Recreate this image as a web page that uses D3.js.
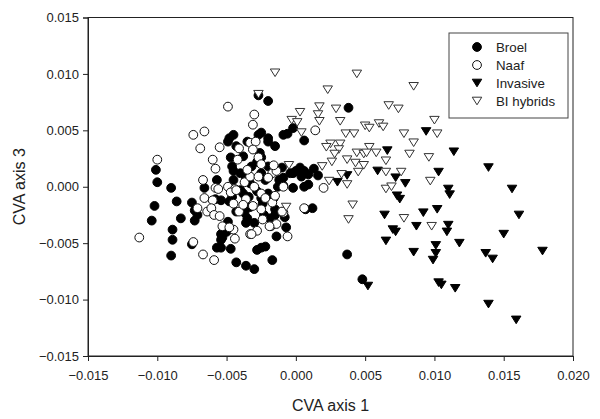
<!DOCTYPE html>
<html>
<head>
<meta charset="utf-8">
<script src="https://cdn.jsdelivr.net/npm/d3@7"></script>
<style>
  body { margin: 0; background: #fff; }
  text { font-family: Arial, "Liberation Sans", sans-serif; fill: #222; }
</style>
</head>
<body>
<div class="chart"></div>
<script>
var W = 600, H = 419;
var margin = {top: 17.5, right: 27, bottom: 63, left: 88},
  width = W - margin.left - margin.right,
  height = H - margin.top - margin.bottom;

var xTicks = [-0.015, -0.010, -0.005, 0.000, 0.005, 0.010, 0.015, 0.020];
var yTicks = [-0.015, -0.010, -0.005, 0.000, 0.005, 0.010, 0.015];
var seriesNames = ["Broel", "Naaf", "Invasive", "BI hybrids"];

// [CVA axis 1, CVA axis 3]
var broel = [
  [-0.0101,0.0015],[-0.0100,0.0004],[-0.0090,-0.0001],[-0.0086,-0.0013],[-0.0102,-0.0017],[-0.0104,-0.0030],
  [-0.0083,-0.0028],[-0.0089,-0.0038],[-0.0089,-0.0047],[-0.0090,-0.0061],[-0.0075,-0.0014],[-0.0073,-0.0021],
  [-0.0073,-0.0030],[-0.0071,-0.0025],[-0.0075,-0.0051],[-0.0066,-0.0001],[-0.0057,0.0006],[-0.0058,-0.0011],
  [-0.0054,-0.0042],[-0.0054,-0.0047],[-0.0057,-0.0054],[-0.0054,-0.0054],[-0.0047,-0.0055],[-0.0043,-0.0067],
  [-0.0036,-0.0070],[-0.0030,-0.0073],[-0.0028,-0.0056],[-0.0025,-0.0054],[-0.0022,-0.0053],[-0.0017,-0.0065],
  [-0.0014,-0.0044],[-0.0007,-0.0036],[-0.0053,-0.0045],[-0.0052,-0.0038],[-0.0049,-0.0031],[-0.0036,-0.0032],
  [-0.0030,-0.0032],[-0.0023,-0.0025],[-0.0015,-0.0025],[-0.0008,-0.0027],[-0.0054,-0.0012],[-0.0050,-0.0040],
  [-0.0048,-0.0013],[-0.0043,-0.0022],[-0.0037,-0.0023],[-0.0035,-0.0028],[-0.0033,-0.0018],[-0.0024,-0.0015],
  [-0.0016,-0.0010],[-0.0015,-0.0020],[-0.0019,-0.0028],[-0.0025,-0.0010],[-0.0038,-0.0006],[-0.0034,-0.0009],
  [-0.0040,-0.0003],[-0.0046,-0.0009],[-0.0020,-0.0006],[-0.0013,0.0000],[-0.0028,-0.0004],
  [-0.0027,0.0081],[-0.0020,0.0076],[-0.0049,0.0040],[-0.0045,0.0046],[-0.0048,0.0043],[-0.0035,0.0040],
  [-0.0043,0.0036],[-0.0027,0.0046],[-0.0025,0.0048],[-0.0020,0.0043],[-0.0020,0.0040],[-0.0015,0.0036],
  [-0.0009,0.0046],[-0.0006,0.0047],[-0.0002,0.0052],[0.0006,0.0041],[0.0038,0.0070],
  [-0.0047,0.0026],[-0.0046,0.0018],[-0.0045,0.0014],[-0.0038,0.0027],[-0.0026,0.0030],[-0.0025,0.0026],
  [-0.0032,0.0018],[-0.0028,0.0022],[-0.0020,0.0018],[-0.0025,0.0012],[-0.0040,0.0012],[-0.0036,0.0008],
  [-0.0022,0.0006],[-0.0045,0.0006],[-0.0033,0.0003],
  [-0.0010,0.0017],[-0.0009,0.0008],[-0.0012,0.0006],[-0.0009,0.0001],[-0.0002,-0.0001],[-0.0002,0.0012],
  [0.0000,0.0014],[0.0003,0.0017],[0.0006,0.0014],[0.0009,0.0011],[0.0013,0.0016],[0.0016,0.0010],
  [0.0006,0.0000],[0.0009,0.0002],[0.0012,-0.0019],[0.0007,-0.0020],[-0.0004,0.0012],[0.0004,0.0009],
  [0.0037,-0.0060],[0.0048,-0.0082]
];

var naaf = [
  [-0.0113,-0.0045],[-0.0100,0.0024],[-0.0074,-0.0049],[-0.0067,-0.0060],[-0.0059,-0.0065],[-0.0049,0.0071],
  [-0.0074,0.0046],[-0.0066,0.0049],[-0.0069,0.0034],[-0.0055,0.0035],[-0.0060,0.0024],[-0.0058,0.0016],
  [-0.0067,0.0006],[-0.0058,-0.0001],[-0.0066,-0.0010],[-0.0060,-0.0012],[-0.0071,-0.0019],[-0.0064,-0.0022],
  [-0.0061,-0.0019],[-0.0059,-0.0025],[-0.0055,-0.0026],[-0.0053,-0.0035],[-0.0045,-0.0038],[-0.0044,-0.0046],
  [-0.0048,-0.0036],[-0.0033,-0.0042],[-0.0028,-0.0039],[-0.0024,-0.0029],[-0.0018,-0.0035],[-0.0014,-0.0033],
  [-0.0009,-0.0023],[-0.0006,-0.0044],[0.0006,-0.0019],
  [-0.0030,0.0064],[-0.0031,0.0055],[0.0014,0.0050],[-0.0033,0.0039],[-0.0029,0.0040],[-0.0031,0.0033],
  [-0.0041,0.0034],[-0.0042,0.0024],[-0.0027,0.0026],[-0.0025,0.0020],[-0.0017,0.0012],[-0.0014,0.0014],
  [-0.0016,0.0019],[-0.0056,-0.0002],[-0.0049,0.0000],[-0.0044,-0.0002],
  [-0.0047,-0.0005],[-0.0043,-0.0003],[-0.0037,0.0004],[-0.0033,0.0009],[-0.0027,0.0009],[-0.0030,0.0000],
  [-0.0025,-0.0006],[-0.0009,0.0000],[-0.0017,-0.0014],[-0.0010,-0.0022],[-0.0025,-0.0020],[-0.0032,-0.0042],
  [-0.0019,-0.0035],[-0.0041,-0.0022],[-0.0036,-0.0011],[-0.0031,-0.0017],[-0.0045,-0.0015],[-0.0020,0.0008],
  [-0.0035,0.0015],[0.0020,-0.0001],[-0.0015,-0.0008],[-0.0022,-0.0010],[-0.0038,-0.0016]
];

var invasive = [
  [0.0030,0.0004],[0.0037,0.0010],[0.0066,0.0032],[0.0059,0.0014],[0.0072,0.0008],[0.0079,0.0003],
  [0.0073,-0.0008],[0.0075,-0.0011],[0.0064,-0.0025],[0.0070,-0.0038],[0.0072,-0.0040],[0.0065,-0.0048],
  [0.0094,0.0049],[0.0114,0.0031],[0.0139,0.0017],[0.0103,0.0013],[0.0110,-0.0002],[0.0111,-0.0007],
  [0.0156,-0.0002],[0.0161,-0.0025],[0.0102,-0.0020],[0.0092,-0.0023],[0.0087,-0.0035],[0.0110,-0.0034],
  [0.0109,-0.0040],[0.0150,-0.0042],[0.0118,-0.0050],[0.0085,-0.0058],[0.0101,-0.0052],[0.0101,-0.0059],
  [0.0099,-0.0065],[0.0137,-0.0059],[0.0142,-0.0064],[0.0178,-0.0057],[0.0103,-0.0085],[0.0105,-0.0087],
  [0.0115,-0.0090],[0.0052,-0.0088],[0.0139,-0.0104],[0.0159,-0.0118]
];

var biHybrids = [
  [-0.0027,0.0082],[-0.0015,0.0101],[0.0044,0.0100],[0.0023,0.0086],[0.0085,0.0089],
  [0.0067,0.0072],[0.0074,0.0069],[0.0017,0.0071],[0.0029,0.0069],[0.0003,0.0066],[0.0016,0.0064],
  [-0.0003,0.0059],[0.0001,0.0057],[0.0017,0.0058],[0.0032,0.0058],[0.0004,0.0048],
  [0.0036,0.0047],[0.0042,0.0047],[0.0050,0.0054],[0.0053,0.0052],[0.0060,0.0056],[0.0063,0.0053],
  [0.0078,0.0047],[0.0100,0.0059],[0.0102,0.0047],[0.0085,0.0039],[0.0082,0.0029],[0.0096,0.0026],
  [0.0025,0.0038],[0.0022,0.0035],[0.0032,0.0038],[0.0031,0.0033],[0.0028,0.0029],[0.0026,0.0022],
  [0.0053,0.0035],[0.0044,0.0030],[0.0049,0.0029],[0.0051,0.0030],[0.0058,0.0030],
  [0.0065,0.0023],[0.0037,0.0024],[0.0043,0.0021],[0.0049,0.0019],[0.0045,0.0013],
  [0.0065,0.0013],[0.0076,0.0013],[0.0019,0.0018],[-0.0005,0.0019],[0.0024,0.0005],[0.0033,0.0011],
  [0.0037,0.0002],[0.0065,-0.0002],[0.0069,0.0000],[0.0097,0.0005],
  [0.0041,-0.0016],[-0.0007,-0.0018],[0.0038,-0.0029],[0.0078,-0.0028],[0.0098,-0.0035]
];

var svg = d3.select(".chart").append("svg")
  .attr("width", W)
  .attr("height", H);

var g = svg.append("g")
  .attr("transform", "translate(" + margin.left + "," + margin.top + ")");

var x = d3.scaleLinear().domain([-0.015, 0.020]).range([0, width]);
var y = d3.scaleLinear().domain([-0.015, 0.015]).range([height, 0]);

// frame
g.append("rect")
  .attr("width", width)
  .attr("height", height)
  .style("fill", "none")
  .style("stroke", "#222")
  .style("stroke-width", 1);

var xAxis = g.append("g")
  .attr("transform", "translate(0," + height + ")")
  .call(d3.axisBottom(x).tickValues(xTicks).tickFormat(d3.format(".3f")).tickSizeOuter(0).tickSize(5).tickPadding(10));

var yAxis = g.append("g")
  .call(d3.axisLeft(y).tickValues(yTicks).tickFormat(d3.format(".3f")).tickSizeOuter(0).tickSize(5).tickPadding(4));

[xAxis, yAxis].forEach(function(a){
  a.selectAll("path").style("stroke", "#222");
  a.selectAll("line").style("stroke", "#222");
  a.selectAll("text").style("font-size", "13px").style("fill", "#222")
    .style("font-family", "Arial, 'Liberation Sans', sans-serif");
});

svg.append("text")
  .attr("x", margin.left + width / 2)
  .attr("y", 411)
  .attr("text-anchor", "middle")
  .style("font-size", "16px")
  .text("CVA axis 1");

svg.append("text")
  .attr("transform", "translate(25," + (margin.top + height / 2) + ") rotate(-90)")
  .attr("text-anchor", "middle")
  .style("font-size", "16px")
  .text("CVA axis 3");

// markers
var circleR = 4.4;
var triDown = function(cx, cy, s){
  var h = s * 0.8;
  return "M" + (cx - s / 2) + "," + (cy - h / 2) + "L" + (cx + s / 2) + "," + (cy - h / 2) + "L" + cx + "," + (cy + h / 2) + "Z";
};

var styles = [
  {data: broel, shape: "circle", fill: "#000", stroke: "#000"},
  {data: naaf, shape: "circle", fill: "#fff", stroke: "#111"},
  {data: invasive, shape: "tri", fill: "#000", stroke: "#000"},
  {data: biHybrids, shape: "tri", fill: "#fff", stroke: "#333"}
];

styles.forEach(function(s, i){
  var grp = g.append("g").attr("class", "series" + i);
  if(s.shape == "circle"){
    grp.selectAll("circle")
      .data(s.data)
      .enter().append("circle")
      .attr("cx", function(d){ return x(d[0]) })
      .attr("cy", function(d){ return y(d[1]) })
      .attr("r", circleR)
      .style("fill", s.fill)
      .style("stroke", s.stroke)
      .style("stroke-width", 1);
  } else {
    grp.selectAll("path")
      .data(s.data)
      .enter().append("path")
      .attr("d", function(d){ return triDown(x(d[0]), y(d[1]), 9.5) })
      .style("fill", s.fill)
      .style("stroke", s.stroke)
      .style("stroke-width", 1);
  }
});

// legend
var lg = svg.append("g").attr("transform", "translate(449,33)");
lg.append("rect")
  .attr("width", 119)
  .attr("height", 85)
  .style("fill", "#fff")
  .style("stroke", "#444")
  .style("stroke-width", 1);

seriesNames.forEach(function(name, i){
  var s = styles[i];
  var cy = 14 + i * 18;
  if(s.shape == "circle"){
    lg.append("circle")
      .attr("cx", 28).attr("cy", cy).attr("r", circleR)
      .style("fill", s.fill).style("stroke", s.stroke).style("stroke-width", 1);
  } else {
    lg.append("path")
      .attr("d", triDown(28, cy, 9.5))
      .style("fill", s.fill).style("stroke", s.stroke).style("stroke-width", 1);
  }
  lg.append("text")
    .attr("x", 47)
    .attr("y", cy + 5)
    .style("font-size", "13.3px")
    .text(name);
});
</script>
</body>
</html>
